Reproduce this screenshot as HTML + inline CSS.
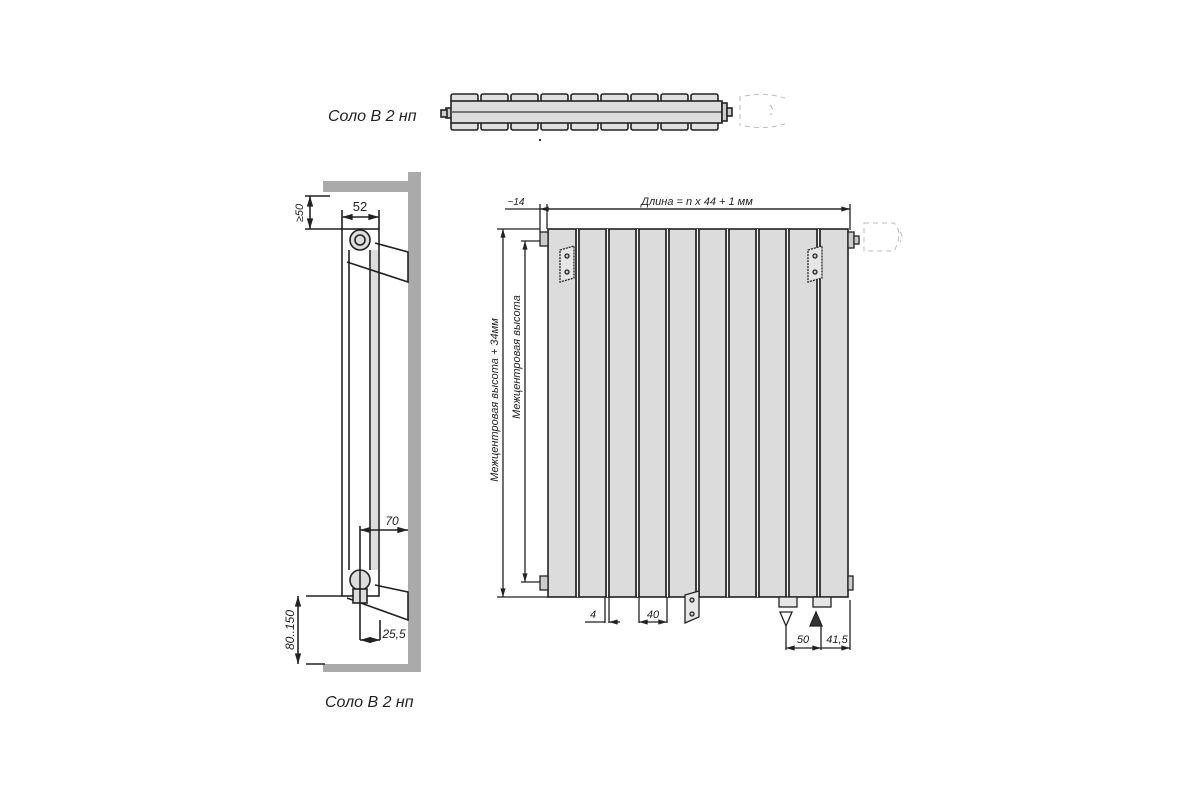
<!DOCTYPE html>
<html><head><meta charset="utf-8"><style>
html,body{margin:0;padding:0;background:#fff}
svg{display:block}
text{font-family:"Liberation Sans",sans-serif;fill:#222}
.it{font-style:italic}
</style></head><body>
<svg width="1200" height="800" viewBox="0 0 1200 800" xmlns="http://www.w3.org/2000/svg">
<defs>
<marker id="a" viewBox="0 0 10 6" refX="10" refY="3" markerWidth="8" markerHeight="4" orient="auto-start-reverse"><path d="M0,0 L10,3 L0,6z" fill="#222"/></marker>
</defs>
<text x="328" y="121" font-size="16" class="it">Соло В 2 нп</text>
<text x="325" y="707" font-size="16" class="it">Соло В 2 нп</text>

<!-- TOP VIEW -->
<g stroke="#222" stroke-width="1.6" fill="#e0e0e0">
<rect x="446" y="108" width="6" height="10" fill="#ccc"/>
<rect x="441" y="110" width="6" height="7" fill="#ccc"/>
<g id="tabs">
<rect x="451" y="94" width="27" height="8" rx="2"/><rect x="481" y="94" width="27" height="8" rx="2"/><rect x="511" y="94" width="27" height="8" rx="2"/><rect x="541" y="94" width="27" height="8" rx="2"/><rect x="571" y="94" width="27" height="8" rx="2"/><rect x="601" y="94" width="27" height="8" rx="2"/><rect x="631" y="94" width="27" height="8" rx="2"/><rect x="661" y="94" width="27" height="8" rx="2"/><rect x="691" y="94" width="27" height="8" rx="2"/>
</g>
<use href="#tabs" transform="translate(0,28)"/>
<rect x="451" y="101" width="271" height="22" fill="#ddd"/>
<line x1="451" y1="112" x2="722" y2="112" stroke="#555"/>
<rect x="722" y="103" width="5" height="18" fill="#ccc"/>
<rect x="727" y="108" width="5" height="8" fill="#ccc"/>
</g>
<path d="M740 96 v30 M745 96 q20 -4 40 2 M745 126 q20 4 40 -2 M770 105 q5 5 0 10" stroke="#bbb" stroke-width="1" fill="none" stroke-dasharray="5 4"/>
<rect x="539" y="139" width="2" height="2" fill="#333"/>

<!-- SIDE VIEW -->
<rect x="323" y="181" width="92" height="11" fill="#aaa"/>
<rect x="408" y="172" width="13" height="500" fill="#aaa"/>
<rect x="323" y="664" width="92" height="8" fill="#aaa"/>
<g stroke="#222" stroke-width="1.6" fill="none">
<rect x="342" y="229" width="37" height="367" fill="#fff"/>
<rect x="371" y="250" width="7" height="320" fill="#ddd" stroke="none"/>
<line x1="349" y1="250" x2="349" y2="570"/>
<line x1="370" y1="250" x2="370" y2="570"/>
<path d="M375 243 L408 252 L408 282 L347 262"/>
<circle cx="360" cy="240" r="10" fill="#ddd"/>
<circle cx="360" cy="240" r="5"/>
<path d="M375 585 L408 592 L408 620 L347 598"/>
<circle cx="360" cy="580" r="10" fill="#ddd"/>
<rect x="353" y="589" width="14" height="14" fill="#ddd"/>
<line x1="342" y1="217" x2="379" y2="217" marker-start="url(#a)" marker-end="url(#a)"/>
<line x1="342" y1="210" x2="342" y2="229"/><line x1="379" y1="210" x2="379" y2="229"/>
<line x1="305" y1="196" x2="330" y2="196"/><line x1="305" y1="229" x2="342" y2="229"/>
<line x1="310" y1="196" x2="310" y2="229" marker-start="url(#a)" marker-end="url(#a)"/>
<line x1="360" y1="530" x2="408" y2="530" marker-start="url(#a)" marker-end="url(#a)"/>
<line x1="360" y1="526" x2="360" y2="640"/>
<line x1="360" y1="640" x2="380" y2="640" marker-start="url(#a)" marker-end="url(#a)"/>
<line x1="380" y1="620" x2="380" y2="640"/>
<line x1="306" y1="596" x2="342" y2="596"/><line x1="306" y1="664" x2="325" y2="664"/>
<line x1="298" y1="596" x2="298" y2="664" marker-start="url(#a)" marker-end="url(#a)"/>
</g>
<text x="360" y="211" font-size="13" text-anchor="middle">52</text>
<text transform="translate(303,213) rotate(-90)" font-size="11" text-anchor="middle" class="it">≥50</text>
<text x="392" y="525" font-size="12" text-anchor="middle" class="it">70</text>
<text x="394" y="638" font-size="12" text-anchor="middle" class="it">25,5</text>
<text transform="translate(294,630) rotate(-90)" font-size="12" text-anchor="middle" class="it">80..150</text>

<!-- FRONT VIEW -->
<rect x="548" y="229" width="300" height="368" fill="#dcdcdc" stroke="#222" stroke-width="1.6"/>
<g stroke="#222" stroke-width="1.7">
<line x1="576" y1="229" x2="576" y2="597"/><line x1="579" y1="229" x2="579" y2="597"/>
<line x1="606" y1="229" x2="606" y2="597"/><line x1="609" y1="229" x2="609" y2="597"/>
<line x1="636" y1="229" x2="636" y2="597"/><line x1="639" y1="229" x2="639" y2="597"/>
<line x1="666" y1="229" x2="666" y2="597"/><line x1="669" y1="229" x2="669" y2="597"/>
<line x1="696" y1="229" x2="696" y2="597"/><line x1="699" y1="229" x2="699" y2="597"/>
<line x1="726" y1="229" x2="726" y2="597"/><line x1="729" y1="229" x2="729" y2="597"/>
<line x1="756" y1="229" x2="756" y2="597"/><line x1="759" y1="229" x2="759" y2="597"/>
<line x1="786" y1="229" x2="786" y2="597"/><line x1="789" y1="229" x2="789" y2="597"/>
<line x1="817" y1="229" x2="817" y2="597"/><line x1="820" y1="229" x2="820" y2="597"/>
</g>
<g stroke="#fff" stroke-width="1"><line x1="577.5" y1="229" x2="577.5" y2="597"/><line x1="607.5" y1="229" x2="607.5" y2="597"/><line x1="637.5" y1="229" x2="637.5" y2="597"/><line x1="667.5" y1="229" x2="667.5" y2="597"/><line x1="697.5" y1="229" x2="697.5" y2="597"/><line x1="727.5" y1="229" x2="727.5" y2="597"/><line x1="757.5" y1="229" x2="757.5" y2="597"/><line x1="787.5" y1="229" x2="787.5" y2="597"/><line x1="818.5" y1="229" x2="818.5" y2="597"/></g>
<g stroke="#222" stroke-width="1.3" fill="#ccc">
<rect x="540" y="232" width="8" height="14"/><rect x="540" y="576" width="8" height="14"/>
<rect x="848" y="232" width="6" height="16"/><rect x="854" y="236" width="5" height="8"/>
<rect x="848" y="576" width="5" height="14"/>
<path d="M560 250 l14 -4 v32 l-14 4z" fill="#e6e6e6" stroke-dasharray="2 1"/>
<circle cx="567" cy="256" r="2"/><circle cx="567" cy="272" r="2"/>
<path d="M808 250 l14 -4 v32 l-14 4z" fill="#e6e6e6" stroke-dasharray="2 1"/>
<circle cx="815" cy="256" r="2"/><circle cx="815" cy="272" r="2"/>
<path d="M685 595 l14 -4 v26 l-14 6z" fill="#e6e6e6"/>
<circle cx="692" cy="600" r="2"/><circle cx="692" cy="614" r="2"/>
<rect x="779" y="597" width="18" height="10" fill="#e6e6e6"/>
<rect x="813" y="597" width="18" height="10" fill="#e6e6e6"/>
<path d="M780 612 h12 l-6 14z" fill="#fff"/>
<path d="M816 612 l6 14 h-12z" fill="#333"/>
</g>
<path d="M864 223 h30 q10 10 0 28 h-30z M900 232 q4 4 0 10" stroke="#bbb" stroke-width="1" fill="none" stroke-dasharray="5 4"/>
<g stroke="#222" stroke-width="1.3" fill="none">
<line x1="505" y1="209" x2="850" y2="209"/>
<line x1="540" y1="209" x2="850" y2="209" marker-start="url(#a)" marker-end="url(#a)"/>
<line x1="540" y1="204" x2="540" y2="232"/><line x1="547" y1="204" x2="547" y2="229"/><line x1="850" y1="204" x2="850" y2="230"/>
<line x1="497" y1="229" x2="540" y2="229"/><line x1="497" y1="597" x2="548" y2="597"/>
<line x1="503" y1="229" x2="503" y2="597" marker-start="url(#a)" marker-end="url(#a)"/>
<line x1="521" y1="241" x2="540" y2="241"/><line x1="521" y1="582" x2="540" y2="582"/>
<line x1="525" y1="241" x2="525" y2="582" marker-start="url(#a)" marker-end="url(#a)"/>
<line x1="605" y1="597" x2="605" y2="623"/><line x1="609" y1="597" x2="609" y2="623"/>
<line x1="585" y1="622" x2="605" y2="622"/><line x1="609" y1="622" x2="620" y2="622" marker-start="url(#a)"/>
<line x1="639" y1="597" x2="639" y2="623"/><line x1="667" y1="597" x2="667" y2="623"/>
<line x1="639" y1="622" x2="667" y2="622" marker-start="url(#a)" marker-end="url(#a)"/>
<line x1="786" y1="626" x2="786" y2="650"/><line x1="821" y1="626" x2="821" y2="650"/><line x1="850" y1="600" x2="850" y2="650"/>
<line x1="786" y1="648" x2="821" y2="648" marker-start="url(#a)" marker-end="url(#a)"/>
<line x1="821" y1="648" x2="850" y2="648" marker-end="url(#a)"/>
</g>
<text x="516" y="205" font-size="10" text-anchor="middle" class="it">~14</text>
<text x="697" y="205" font-size="11" text-anchor="middle" class="it">Длина = n x 44 + 1 мм</text>
<text transform="translate(498,400) rotate(-90)" font-size="11" text-anchor="middle" class="it">Межцентровая высота + 34мм</text>
<text transform="translate(520,357) rotate(-90)" font-size="11" text-anchor="middle" class="it">Межцентровая высота</text>
<text x="593" y="618" font-size="11" text-anchor="middle" class="it">4</text>
<text x="653" y="618" font-size="11" text-anchor="middle" class="it">40</text>
<text x="803" y="643" font-size="11" text-anchor="middle" class="it">50</text>
<text x="837" y="643" font-size="11" text-anchor="middle" class="it">41,5</text>
</svg>
</body></html>
